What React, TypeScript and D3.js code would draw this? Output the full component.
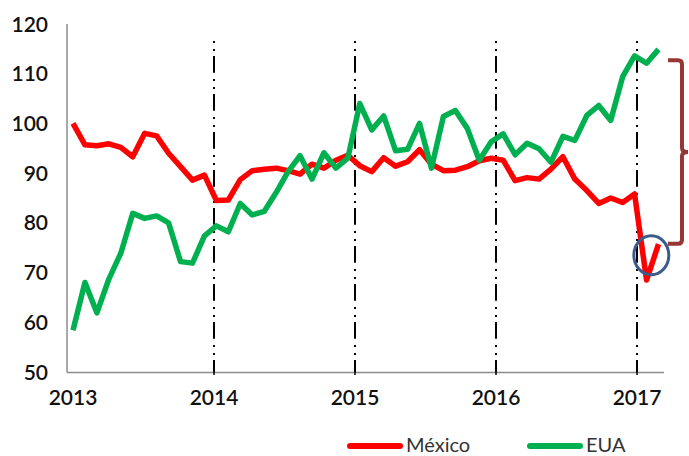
import { scaleLinear, line } from "d3";

const width = 689;
const height = 456;

// monthly index, Jan 2013 .. Feb 2017
const mexico = [
  100, 95.7, 95.5, 95.9, 95.2, 93.3, 98.0, 97.5, 94.0, 91.3, 88.6, 89.6,
  84.5, 84.6, 88.7, 90.5, 90.8, 91.0, 90.5, 89.8, 91.8, 91.0, 92.6, 93.6,
  91.5, 90.3, 93.1, 91.4, 92.3, 94.7, 91.8, 90.5, 90.6, 91.3, 92.5, 93.0,
  92.6, 88.5, 89.1, 88.8, 90.8, 93.3, 88.8, 86.5, 83.9, 85.0, 84.1, 85.8,
  68.5, 75.7,
];
const eua = [
  58.4, 68.0, 61.9, 68.7, 73.9, 81.9, 80.9, 81.4, 80.0, 72.2, 71.9, 77.4,
  79.4, 78.2, 83.9, 81.6, 82.3, 86.1, 90.3, 93.5, 88.8, 94.1, 91.0, 93.0,
  104.0, 98.7, 101.5, 94.5, 94.8, 100.0, 91.0, 101.4, 102.6, 99.0, 92.6, 96.3,
  97.9, 93.7, 96.0, 94.9, 92.2, 97.4, 96.6, 101.6, 103.6, 100.6, 109.4, 113.6,
  112.1, 114.9,
];
const years = [2013, 2014, 2015, 2016, 2017];
const yTicks = [50, 60, 70, 80, 90, 100, 110, 120];
const seriesNames = ["México", "EUA"];

const RED = "#ff0000";
const GREEN = "#00b050";
const FONT = "Lato, 'Open Sans', sans-serif";

export default function App() {
  const x = scaleLinear().domain([0, 49]).range([73, 658.5]);
  const xYear = scaleLinear().domain([2013, 2017]).range([73, 637]);
  const y = scaleLinear().domain([50, 120]).range([372, 24]);

  const path = line<number>()
    .x((_, i) => x(i))
    .y((d) => y(d));

  const axisLeft = 67;
  const axisRight = 664;
  const dashTop = 41;

  // annotation brace: from Mexico's last value up to near the EUA level
  const bTop = y(112.7);
  const bBot = y(75.8);
  const bMid = (bTop + bBot) / 2;
  const bx0 = 668;
  const bx1 = 682;
  const brace = `M${bx0},${bTop} H${bx1 - 4} Q${bx1},${bTop} ${bx1},${bTop + 4} V${bMid - 4} Q${bx1},${bMid} ${bx1 + 6},${bMid} Q${bx1},${bMid} ${bx1},${bMid + 4} V${bBot - 4} Q${bx1},${bBot} ${bx1 - 4},${bBot} H${bx0}`;

  return (
    <svg
      width={width}
      height={height}
      style={{ position: "absolute", left: 0, top: 0, background: "#fff" }}
      fontFamily={FONT}
    >
      {/* dash-dot-dot year separators */}
      {years.slice(1).map((yr) => (
        <line
          key={"d" + yr}
          x1={xYear(yr)}
          x2={xYear(yr)}
          y1={dashTop}
          y2={372}
          stroke="#000"
          strokeWidth={2}
          strokeDasharray="2 6 2 5 16.7 6.3"
        />
      ))}

      {/* axes */}
      <line x1={axisLeft} x2={axisLeft} y1={y(120)} y2={372.5} stroke="#8c8c8c" strokeWidth={1.5} />
      <line x1={axisLeft} x2={axisRight} y1={372.5} y2={372.5} stroke="#8c8c8c" strokeWidth={1.5} />
      {years.slice(1).map((yr) => (
        <line
          key={"t" + yr}
          x1={xYear(yr)}
          x2={xYear(yr)}
          y1={361}
          y2={375}
          stroke="#000"
          strokeWidth={1.5}
        />
      ))}

      {yTicks.map((t) => (
        <text
          key={t}
          x={48}
          y={y(t)}
          dy="0.36em"
          textAnchor="end"
          fontSize={21}
          fontWeight={600}
          fill="#111"
        >
          {t}
        </text>
      ))}
      {years.map((yr) => (
        <text
          key={yr}
          x={xYear(yr)}
          y={405}
          textAnchor="middle"
          fontSize={21}
          fontWeight={600}
          fill="#111"
        >
          {yr}
        </text>
      ))}

      {/* series */}
      <path d={path(mexico) ?? ""} fill="none" stroke={RED} strokeWidth={5.5} strokeLinejoin="round" />
      <path d={path(eua) ?? ""} fill="none" stroke={GREEN} strokeWidth={5.5} strokeLinejoin="round" />

      {/* annotations */}
      <ellipse
        cx={x(48.4)}
        cy={y(73.5)}
        rx={17.5}
        ry={19.5}
        fill="none"
        stroke="#3b5b8a"
        strokeWidth={3}
      />
      <path d={brace} fill="none" stroke="#953735" strokeWidth={4} />

      {/* legend */}
      {seriesNames.map((name, i) => {
        const lx = i === 0 ? 347 : 527;
        return (
          <g key={name}>
            <line
              x1={lx + 3}
              x2={lx + 53}
              y1={446}
              y2={446}
              stroke={i === 0 ? RED : GREEN}
              strokeWidth={6}
              strokeLinecap="round"
            />
            <text x={lx + 59} y={452} fontSize={20} fill="#333">
              {name}
            </text>
          </g>
        );
      })}
    </svg>
  );
}
